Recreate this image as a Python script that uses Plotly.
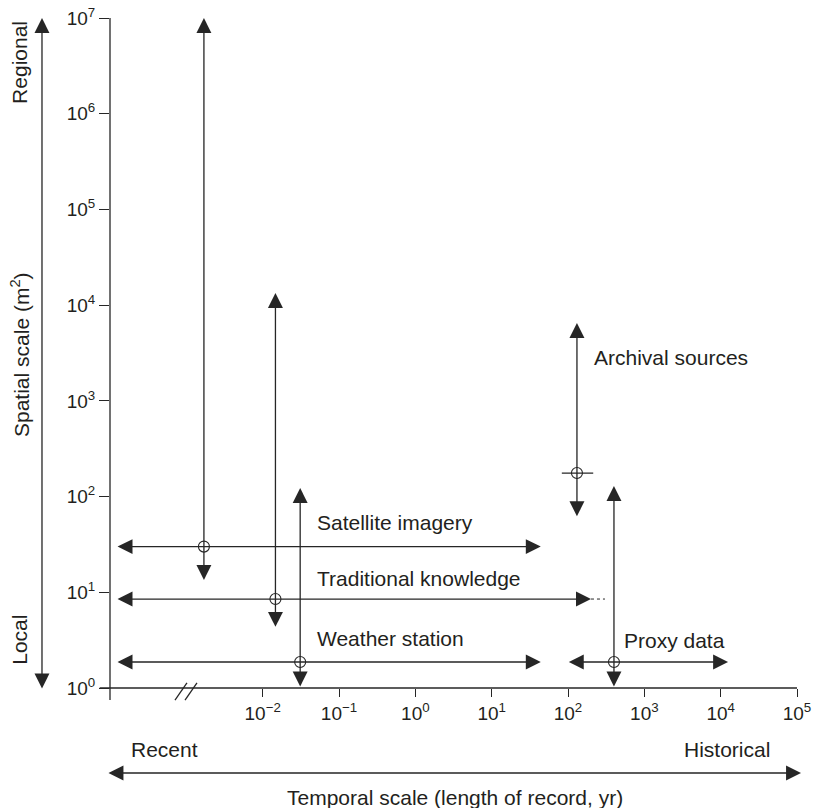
import numpy as np
import plotly.graph_objects as go

# ---------------- data (years, m^2) ----------------
methods = ["Satellite imagery", "Traditional knowledge", "Weather station", "Archival sources", "Proxy data"]
# centre point of each method (record length, spatial scale)
center_x = [0.0017, 0.0147, 0.031, 131, 400]
center_y = [30, 8.5, 1.87, 176, 1.87]
# vertical (spatial) extent
span_y_low = [13, 4.2, 1.0, 60, 1.0]
span_y_high = [1e7, 13400, 123, 6500, 129]
# horizontal (temporal) extent
span_x_low = [1.2e-4, 1.2e-4, 1.2e-4, None, 98]
span_x_high = [44, 200, 44, None, 12500]
# archival sources: short horizontal bar (no arrows)
archival_bar_x = [83, 214]
# traditional knowledge: dotted extension
trad_dotted_x = [200, 305]

x_tickvals = [1e-2, 1e-1, 1e0, 1e1, 1e2, 1e3, 1e4, 1e5]
x_ticktext = ["10<sup>−2</sup>", "10<sup>−1</sup>", "10<sup>0</sup>", "10<sup>1</sup>",
              "10<sup>2</sup>", "10<sup>3</sup>", "10<sup>4</sup>", "10<sup>5</sup>"]
y_tickvals = [1e0, 1e1, 1e2, 1e3, 1e4, 1e5, 1e6, 1e7]
y_ticktext = ["10<sup>0</sup>", "10<sup>1</sup>", "10<sup>2</sup>", "10<sup>3</sup>",
              "10<sup>4</sup>", "10<sup>5</sup>", "10<sup>6</sup>", "10<sup>7</sup>"]

# ---------------- styling ----------------
LINE = "#262626"
TEXT = "#231f20"
FONT = "Liberation Sans, Arial, Helvetica, sans-serif"
LW = 1.3
AHEAD = 2
ASIZE = 2.3
TSIZE = 21

lg = np.log10

fig = go.Figure()
annotations = []


def arrow(x_tip, y_tip, x_tail, y_tail, both=False, ref="data"):
    d = dict(text="", showarrow=True, arrowhead=AHEAD, arrowsize=ASIZE, arrowwidth=LW,
             arrowcolor=LINE, standoff=0, startstandoff=0)
    if ref == "data":
        d.update(x=lg(x_tip), y=lg(y_tip), ax=lg(x_tail), ay=lg(y_tail),
                 xref="x", yref="y", axref="x", ayref="y")
    else:
        d.update(x=x_tip, y=y_tip, ax=x_tail, ay=y_tail,
                 xref="x domain", yref="y domain", axref="x domain", ayref="y domain")
    if both:
        d.update(arrowside="end+start", startarrowhead=AHEAD, startarrowsize=ASIZE)
    return d


for i in range(len(methods)):
    cx, cy = center_x[i], center_y[i]
    # vertical double arrow
    annotations.append(arrow(cx, span_y_high[i], cx, span_y_low[i], both=True))
    # horizontal double arrow
    if span_x_low[i] is not None:
        annotations.append(arrow(span_x_high[i], cy, span_x_low[i], cy, both=True))

# archival horizontal bar
fig.add_trace(go.Scatter(x=archival_bar_x, y=[center_y[3]] * 2, mode="lines",
                         line=dict(color=LINE, width=LW), hoverinfo="skip", showlegend=False))
# traditional dotted extension
fig.add_trace(go.Scatter(x=trad_dotted_x, y=[center_y[1]] * 2, mode="lines",
                         line=dict(color=LINE, width=1, dash="dot"), hoverinfo="skip", showlegend=False))
# circles
fig.add_trace(go.Scatter(x=center_x, y=center_y, mode="markers",
                         marker=dict(symbol="circle-open", size=11, color=LINE, line=dict(width=1.1)),
                         hoverinfo="skip", showlegend=False, cliponaxis=False))

# method labels (data coordinates of text anchor, left aligned)
label_pos = {
    "Satellite imagery": (0.0485, 53),
    "Traditional knowledge": (0.0485, 14),
    "Weather station": (0.0485, 3.3),
    "Archival sources": (207, 2870),
    "Proxy data": (510, 3.1),
}
for name in methods:
    lx, ly = label_pos[name]
    annotations.append(dict(text=name, x=lg(lx), y=lg(ly), xref="x", yref="y", showarrow=False,
                            xanchor="left", yanchor="middle",
                            font=dict(family=FONT, size=TSIZE, color=TEXT)))

# outer arrows
annotations.append(arrow(-0.099, 1.0, -0.099, -0.003, both=True, ref="paper"))
annotations.append(arrow(1.0058, -0.1269, -0.0044, -0.1269, both=True, ref="paper"))

# outer texts
def ptext(t, x, y, angle=0):
    return dict(text=t, x=x, y=y, xref="paper", yref="paper", showarrow=False,
                xanchor="center", yanchor="middle", textangle=angle,
                font=dict(family=FONT, size=TSIZE, color=TEXT))

annotations += [
    ptext("Spatial scale (m<sup>2</sup>)", -0.131, 0.497, -90),
    ptext("Regional", -0.131, 0.933, -90),
    ptext("Local", -0.131, 0.072, -90),
    ptext("Recent", 0.079, -0.0925),
    ptext("Historical", 0.898, -0.0925),
    ptext("Temporal scale (length of record, yr)", 0.502, -0.163),
]

shapes = [
    # axis lines with small overhang
    dict(type="line", xref="paper", yref="paper", x0=-0.015, x1=1.0, y0=0, y1=0,
         line=dict(color=LINE, width=LW)),
    dict(type="line", xref="paper", yref="paper", x0=0, x1=0, y0=-0.018, y1=1.0,
         line=dict(color=LINE, width=LW)),
    # axis break marks
    dict(type="line", xref="paper", yref="paper", x0=0.0946, x1=0.112, y0=-0.018, y1=0.0075,
         line=dict(color=LINE, width=LW)),
    dict(type="line", xref="paper", yref="paper", x0=0.1092, x1=0.1266, y0=-0.018, y1=0.0075,
         line=dict(color=LINE, width=LW)),
]

fig.update_layout(
    width=819, height=808,
    margin=dict(l=110, r=22, t=18, b=120, autoexpand=False),
    paper_bgcolor="white", plot_bgcolor="white",
    annotations=annotations, shapes=shapes,
    font=dict(family=FONT, color=TEXT),
    xaxis=dict(type="log", range=[-4, 5], tickvals=x_tickvals, ticktext=x_ticktext,
               showgrid=False, zeroline=False, showline=False, ticks="outside",
               ticklen=8, tickwidth=1.2, tickcolor=LINE, ticklabeloverflow="allow",
               automargin=False,
               tickfont=dict(family=FONT, size=19, color=TEXT)),
    yaxis=dict(type="log", range=[0, 7], tickvals=y_tickvals, ticktext=y_ticktext,
               showgrid=False, zeroline=False, showline=False, ticks="outside",
               ticklen=10, tickwidth=1.2, tickcolor=LINE, ticklabeloverflow="allow",
               automargin=False,
               tickfont=dict(family=FONT, size=19, color=TEXT)),
)

# remove the default 8px page margin so the 819x808 figure fills the window exactly
fig.write_html("out.html", config={"displayModeBar": False},
               post_script="document.body.style.margin='0px';")
